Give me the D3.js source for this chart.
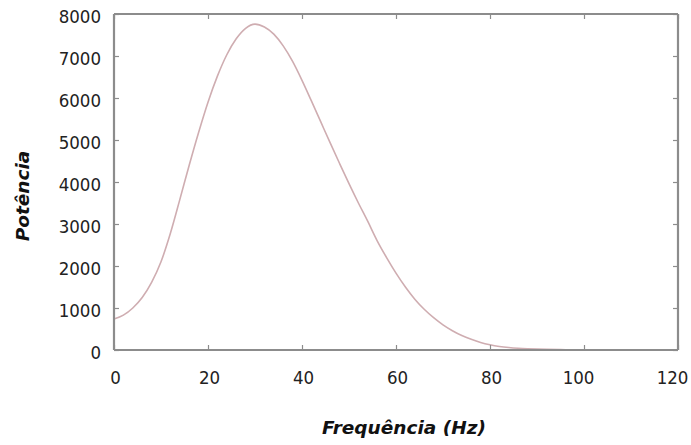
<!DOCTYPE html>
<html>
<head>
<meta charset="utf-8">
<script src="https://cdn.jsdelivr.net/npm/d3@7"></script>
<style>
  html, body { margin: 0; padding: 0; background: #fff; }
  svg { display: block; }
  .tick-label { font-family: "DejaVu Sans Condensed", "DejaVu Sans", sans-serif; font-stretch: condensed; font-size: 18.5px; fill: #222; }
  .axis-title { font-family: "DejaVu Sans", "Liberation Sans", sans-serif; font-size: 18.5px; font-weight: bold; font-style: italic; fill: #111; }
</style>
</head>
<body>
<svg id="chart" width="691" height="445"></svg>
<script>
// Power spectrum: frequency (Hz) vs. power
const freq = [0, 2, 4, 6, 8, 10, 12, 14, 16, 18, 20, 22, 24, 26, 28, 30, 32, 34, 36, 38,
              40, 42, 44, 46, 48, 50, 52, 54, 56, 58, 60, 62, 64, 66, 68, 70, 72, 74, 76, 78,
              80, 82, 84, 86, 88, 90, 95, 100, 105, 110];
const power = [740, 830, 1000, 1250, 1610, 2100, 2780, 3580, 4400, 5180, 5900, 6520, 7030, 7410, 7660, 7760, 7690, 7520, 7240, 6870,
               6420, 5930, 5430, 4930, 4440, 3960, 3500, 3060, 2600, 2200, 1830, 1500, 1210, 970, 770, 600, 460, 345, 255, 180,
               125, 85, 58, 40, 28, 20, 9, 4, 2, 1];

const xTicks = [0, 20, 40, 60, 80, 100, 120];
const yTicks = [0, 1000, 2000, 3000, 4000, 5000, 6000, 7000, 8000];
const xTitle = "Frequência (Hz)";
const yTitle = "Potência";

const svg = d3.select("#chart");
const margin = { left: 114, top: 14, right: 13, bottom: 95 };
const W = 691, H = 445;

const x = d3.scaleLinear().domain([0, 120]).range([margin.left, W - margin.right]);
const y = d3.scaleLinear().domain([0, 8000]).range([H - margin.bottom, margin.top]);

const frameColor = "#8c8c8c";
const fmt = d3.format("d");

// spectrum curve
const line = d3.line()
  .x((d, i) => x(freq[i]))
  .y(d => y(d))
  .curve(d3.curveMonotoneX);

svg.append("path")
  .datum(power)
  .attr("d", line)
  .attr("fill", "none")
  .attr("stroke", "#cfadb1")
  .attr("stroke-width", 1.6);

// frame axes with inward ticks on all four sides
const tickLen = 5;
const bottomAxis = d3.axisBottom(x).tickValues(xTicks).tickFormat(fmt).tickSize(-tickLen).tickPadding(21);
const topAxis = d3.axisTop(x).tickValues(xTicks).tickSize(-tickLen).tickFormat("");
const leftAxis = d3.axisLeft(y).tickValues(yTicks).tickFormat(fmt).tickSize(-tickLen).tickPadding(13);
const rightAxis = d3.axisRight(y).tickValues(yTicks).tickSize(-tickLen).tickFormat("");

function styleAxis(g) {
  g.select(".domain").attr("stroke", frameColor).attr("stroke-width", 2.2);
  g.selectAll(".tick line").attr("stroke", frameColor).attr("stroke-width", 1.2);
  g.selectAll(".tick text").attr("class", "tick-label").attr("fill", null);
  g.attr("font-family", null).attr("font-size", null);
}

svg.append("g").attr("transform", `translate(0,${y(0)})`).call(bottomAxis).call(styleAxis)
  .call(g => g.select(".domain").attr("d", `M${x(0)},0H${x(120)}`))
  // three-digit labels sit a little left of their ticks
  .call(g => g.selectAll(".tick text").attr("dx", d => d >= 100 ? -6 : 1));
svg.append("g").attr("transform", `translate(0,${y(8000)})`).call(topAxis).call(styleAxis)
  .call(g => g.select(".domain").attr("d", `M${x(0)},0H${x(120)}`));
svg.append("g").attr("transform", `translate(${x(0)},0)`).call(leftAxis).call(styleAxis)
  .call(g => g.select(".domain").attr("d", `M0,${y(0)}V${y(8000)}`))
  .call(g => g.selectAll(".tick text").attr("dy", "0.45em"));
svg.append("g").attr("transform", `translate(${x(120)},0)`).call(rightAxis).call(styleAxis)
  .call(g => g.select(".domain").attr("d", `M0,${y(0)}V${y(8000)}`));

// axis titles
svg.append("text")
  .attr("class", "axis-title")
  .attr("x", 404)
  .attr("y", 434)
  .attr("text-anchor", "middle")
  .text(xTitle);

svg.append("text")
  .attr("class", "axis-title")
  .attr("transform", `translate(29,196) rotate(-90)`)
  .attr("text-anchor", "middle")
  .text(yTitle);
</script>
</body>
</html>
